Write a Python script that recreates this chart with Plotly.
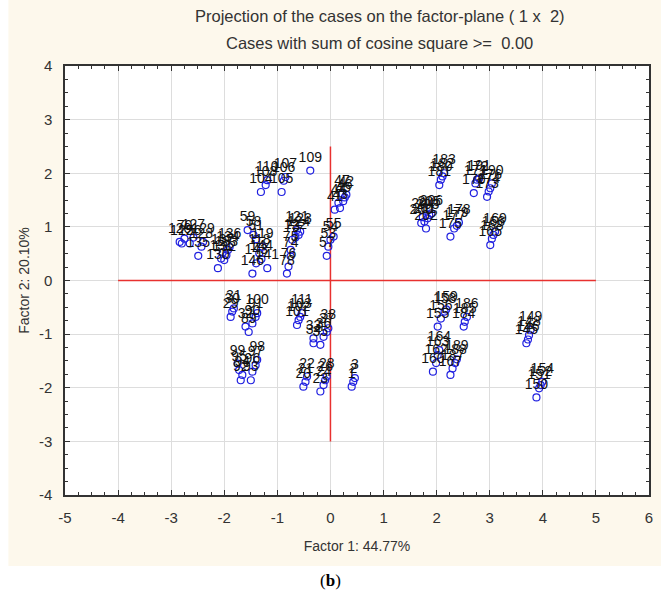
import plotly.graph_objects as go

# ---- data ----
case_labels = [
    "104", "108", "110", "105", "106", "107", "109",
    "41", "43", "44", "45", "46", "42", "47",
    "57", "53", "54", "55",
    "78", "76", "74", "75", "73", "122", "124", "123", "121",
    "59", "51", "119", "118", "143", "141", "146", "144", "58",
    "130", "131", "132", "133", "134", "135", "136", "137",
    "120", "125", "126", "128", "129", "70", "127",
    "200", "201", "203", "202", "205", "204", "206",
    "175", "177", "179", "178",
    "181", "182", "183", "180",
    "170", "171", "172", "173", "174", "176", "190", "191",
    "165", "166", "169", "168",
    "29", "30", "31", "32", "89", "90", "91", "100",
    "92", "93", "94", "95", "96", "97", "98", "99",
    "101", "102", "103", "111",
    "33", "34", "35", "36", "37", "38",
    "20", "21", "22", "23", "24", "26", "28",
    "1", "2", "3",
    "155", "156", "158", "159", "184", "185", "186",
    "160", "162", "163", "164", "167", "187", "188", "189",
    "145", "146", "148", "149",
    "150", "151", "152", "154",
]
factor1 = [
    -1.31, -1.22, -1.19, -0.92, -0.88, -0.85, -0.38,
    0.08, 0.18, 0.15, 0.24, 0.27, 0.30, 0.22,
    -0.07, -0.04, 0.00, 0.06,
    -0.82, -0.79, -0.75, -0.75, -0.72, -0.66, -0.60, -0.57, -0.63,
    -1.56, -1.40, -1.28, -1.34, -1.40, -1.19, -1.47, -1.30, -1.45,
    -2.12, -2.06, -2.00, -1.96, -1.93, -2.49, -1.90, -2.03,
    -2.84, -2.80, -2.65, -2.43, -2.40, -2.75, -2.58,
    1.71, 1.77, 1.83, 1.80, 1.86, 1.74, 1.90,
    2.26, 2.33, 2.38, 2.42,
    2.05, 2.11, 2.14, 2.08,
    2.70, 2.73, 2.76, 2.95, 2.98, 3.01, 3.04, 2.80,
    3.01, 3.07, 3.10, 3.04,
    -1.88, -1.85, -1.82, -1.60, -1.54, -1.47, -1.41, -1.38,
    -1.69, -1.50, -1.66, -1.72, -1.47, -1.41, -1.38, -1.75,
    -0.63, -0.60, -0.57, -0.54,
    -0.32, -0.32, -0.19, -0.13, -0.07, -0.04,
    -0.51, -0.47, -0.44, -0.19, -0.13, -0.10, -0.07,
    0.40, 0.43, 0.46,
    2.02, 2.08, 2.15, 2.18, 2.51, 2.53, 2.57,
    1.93, 1.99, 2.02, 2.05, 2.26, 2.30, 2.35, 2.38,
    3.69, 3.72, 3.74, 3.77,
    3.88, 3.93, 3.96, 3.99,
]
factor2 = [
    1.65, 1.78, 1.87, 1.65, 1.86, 1.93, 2.05,
    1.32, 1.35, 1.45, 1.48, 1.55, 1.60, 1.62,
    0.46, 0.63, 0.76, 0.82,
    0.13, 0.26, 0.45, 0.57, 0.76, 0.80, 0.85, 0.91, 0.94,
    0.94, 0.77, 0.63, 0.51, 0.32, 0.23, 0.13, 0.40, 0.85,
    0.23, 0.41, 0.38, 0.47, 0.57, 0.46, 0.62, 0.52,
    0.72, 0.69, 0.69, 0.63, 0.72, 0.78, 0.80,
    1.07, 1.10, 1.16, 0.97, 1.22, 1.18, 1.25,
    0.82, 0.97, 1.02, 1.08,
    1.78, 1.94, 2.00, 1.88,
    1.63, 1.81, 1.88, 1.56, 1.66, 1.72, 1.81, 1.90,
    0.66, 0.85, 0.91, 0.78,
    -0.68, -0.58, -0.52, -0.86, -0.96, -0.80, -0.68, -0.61,
    -1.86, -1.86, -1.76, -1.67, -1.70, -1.58, -1.48, -1.55,
    -0.83, -0.74, -0.68, -0.61,
    -1.08, -1.17, -1.20, -1.05, -0.96, -0.89,
    -1.98, -1.89, -1.79, -2.07, -1.95, -1.86, -1.79,
    -1.98, -1.89, -1.82,
    -0.86, -0.71, -0.58, -0.54, -0.86, -0.77, -0.68,
    -1.70, -1.54, -1.39, -1.30, -1.76, -1.64, -1.54, -1.47,
    -1.17, -1.10, -1.02, -0.92,
    -2.18, -2.01, -1.95, -1.89,
]

# reference (red) lines
h_line_x = [-4, 5]
h_line_y = [0, 0]
v_line_x = [0, 0]
v_line_y = [-3, 2.5]

x_ticks = list(range(-5, 7))
y_ticks = list(range(-4, 5))

title_line1 = "Projection of the cases on the factor-plane ( 1 x  2)"
title_line2 = "Cases with sum of cosine square >=  0.00"
x_title = "Factor 1: 44.77%"
y_title = "Factor 2: 20.10%"

FONT = "Liberation Sans, Arial, sans-serif"
CREAM = "#FDF8EC"
TXT = "#333333"
RED = "#E8312F"

fig = go.Figure()
fig.add_trace(go.Scatter(x=h_line_x, y=h_line_y, mode="lines", line=dict(color=RED, width=1.5),
                         showlegend=False, hoverinfo="skip"))
fig.add_trace(go.Scatter(x=v_line_x, y=v_line_y, mode="lines", line=dict(color=RED, width=1.5),
                         showlegend=False, hoverinfo="skip"))
fig.add_trace(go.Scatter(
    x=factor1, y=factor2, mode="markers+text", text=case_labels,
    textposition="top center",
    textfont=dict(family=FONT, size=14, color="#111111"),
    marker=dict(symbol="circle-open", size=7, color="#2020E0", line=dict(width=1.2)),
    showlegend=False, hoverinfo="skip",
))

# white strips outside the cream panel
fig.add_shape(type="rect", xref="paper", yref="paper", x0=-0.2, x1=1.2,
              y0=-0.3, y1=-(566 - 495) / 429, fillcolor="white", line=dict(width=0), layer="below")
fig.add_shape(type="rect", xref="paper", yref="paper", x0=-0.2, x1=(8 - 65) / 588,
              y0=-0.3, y1=1.3, fillcolor="white", line=dict(width=0), layer="below")

axis_common = dict(
    showgrid=True, gridcolor="#DDDDDD", gridwidth=1,
    zeroline=False, showline=True, linecolor="#333333", linewidth=1.5,
    mirror="ticks", ticks="inside", ticklen=5, tickcolor="#333333", tickwidth=1,
    minor=dict(dtick=0.25, tick0=0, ticks="inside", ticklen=3, tickcolor="#333333", showgrid=False),
    tickfont=dict(family=FONT, size=15, color=TXT),
    ticklabelstandoff=8,
)
fig.update_xaxes(range=[-5, 6], tickvals=x_ticks, ticktext=[str(v) for v in x_ticks],
                 title=dict(text=x_title, font=dict(family=FONT, size=14, color=TXT), standoff=16),
                 **axis_common)
fig.update_yaxes(range=[-4, 4], tickvals=y_ticks, ticktext=[str(v) for v in y_ticks],
                 title=dict(text=y_title, font=dict(family=FONT, size=14, color=TXT), standoff=6),
                 **axis_common)

fig.add_annotation(text=title_line1, xref="paper", yref="paper", x=(382 - 65) / 588, y=1 + (66 - 16) / 429,
                   showarrow=False, xanchor="center", yanchor="middle",
                   font=dict(family=FONT, size=16.5, color=TXT))
fig.add_annotation(text=title_line2, xref="paper", yref="paper", x=(382 - 65) / 588, y=1 + (66 - 43) / 429,
                   showarrow=False, xanchor="center", yanchor="middle",
                   font=dict(family=FONT, size=16.5, color=TXT))
fig.add_annotation(text="(<b>b</b>)", xref="paper", yref="paper", x=(332 - 65) / 588, y=-(580 - 495) / 429,
                   showarrow=False, xanchor="center", yanchor="middle",
                   font=dict(family="Liberation Serif, Times New Roman, serif", size=17, color="#000000"))

fig.update_layout(
    width=661, height=600,
    margin=dict(l=65, r=8, t=66, b=105),
    paper_bgcolor=CREAM, plot_bgcolor="white",
    font=dict(family=FONT, color=TXT),
)

fig.write_html("out.html")
